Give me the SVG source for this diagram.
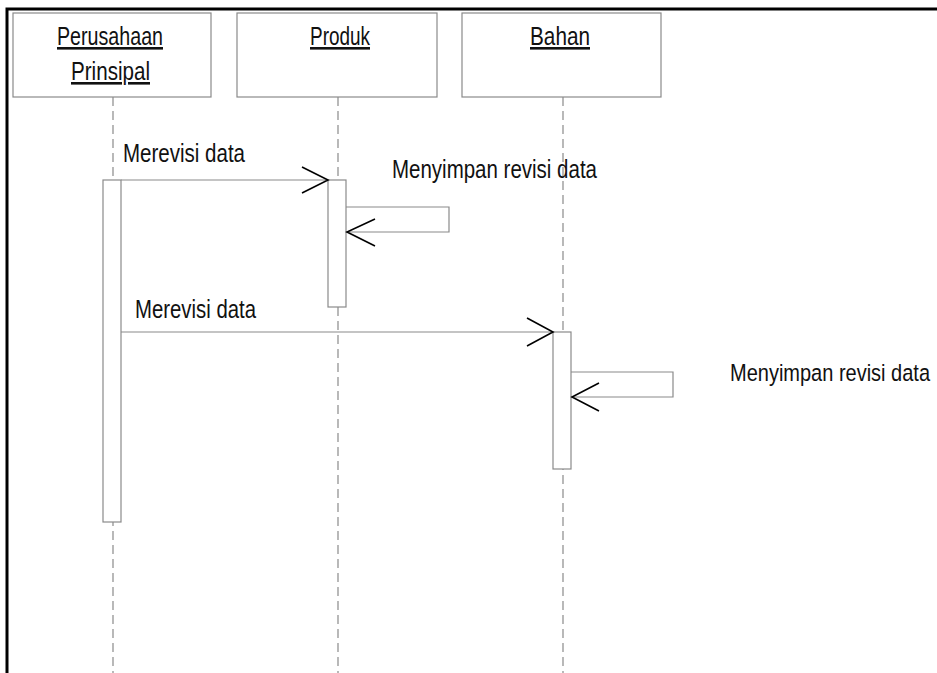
<svg xmlns="http://www.w3.org/2000/svg" width="937" height="673" viewBox="0 0 937 673">
  <style>
    .frame { fill: none; stroke: #000; stroke-width: 3; }
    .obj { fill: #fff; stroke: #8a8a8a; stroke-width: 1.2; }
    .life { fill: none; stroke: #8a8a8a; stroke-width: 1.2; stroke-dasharray: 9 5; }
    .act { fill: #fff; stroke: #8a8a8a; stroke-width: 1.2; }
    .msg { fill: none; stroke: #8a8a8a; stroke-width: 1.2; }
    .head { fill: none; stroke: #000; stroke-width: 1.6; }
    text { font-family: "Liberation Sans Narrow", "Liberation Sans", Arial, sans-serif; font-size: 26px; fill: #111; }
    .name { text-decoration: underline; }
    .edge { font-size: 24.5px; }
  </style>
  <rect width="937" height="673" fill="#fff"/>
  <!-- diagram frame -->
  <path class="frame" d="M7 673 V9 H937"/>

  <!-- lifelines -->
  <g id="lifelines">
    <line class="life" x1="113" y1="97" x2="113" y2="673"/>
    <line class="life" x1="338" y1="97" x2="338" y2="673"/>
    <line class="life" x1="563" y1="97" x2="563" y2="673"/>
  </g>

  <g id="perusahaan-prinsipal">
    <rect class="obj" x="13" y="13" width="198" height="84"/>
    <text class="name" x="57" y="45" textLength="106" lengthAdjust="spacingAndGlyphs">Perusahaan</text>
    <text class="name" x="71" y="80" textLength="79" lengthAdjust="spacingAndGlyphs">Prinsipal</text>
    <rect class="act" x="103" y="180" width="18" height="342"/>
  </g>

  <g id="produk">
    <rect class="obj" x="237" y="13" width="200" height="84"/>
    <text class="name" x="310" y="45" textLength="60" lengthAdjust="spacingAndGlyphs">Produk</text>
    <rect class="act" x="328" y="180" width="18" height="127"/>
  </g>

  <g id="bahan">
    <rect class="obj" x="462" y="13" width="199" height="84"/>
    <text class="name" x="530" y="45" textLength="60" lengthAdjust="spacingAndGlyphs">Bahan</text>
    <rect class="act" x="553" y="332" width="18" height="137"/>
  </g>

  <!-- messages -->
  <g id="connectors">
    <line class="msg" x1="121" y1="180" x2="328" y2="180"/>
    <polyline class="head" points="302,167 328,180 302,193"/>
    <text x="123" y="162" textLength="122" lengthAdjust="spacingAndGlyphs">Merevisi data</text>

    <polyline class="msg" points="346,207 449,207 449,232 346,232"/>
    <polyline class="head" points="375,219 347,232 375,246"/>
    <text x="392" y="178" textLength="205" lengthAdjust="spacingAndGlyphs">Menyimpan revisi data</text>

    <line class="msg" x1="121" y1="332" x2="553" y2="332"/>
    <polyline class="head" points="527,318 553,332 527,346"/>
    <text x="135" y="318" textLength="121" lengthAdjust="spacingAndGlyphs">Merevisi data</text>

    <polyline class="msg" points="571,372 673,372 673,397 571,397"/>
    <polyline class="head" points="599,383 572,397 599,411"/>
    <text class="edge" x="730" y="381" textLength="200" lengthAdjust="spacingAndGlyphs">Menyimpan revisi data</text>
  </g>
</svg>
